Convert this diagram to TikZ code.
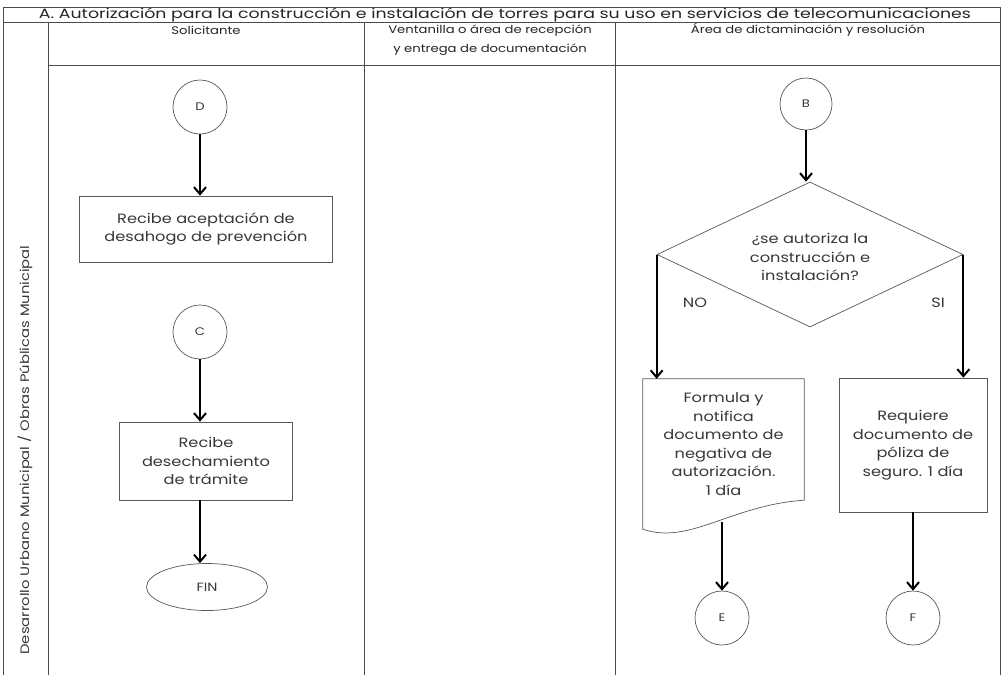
\documentclass[tikz,border=0pt]{standalone}
\usepackage{fontspec}
\usepackage{graphicx}
\setmainfont{Poppins}[FakeStretch=1.2]
\usetikzlibrary{arrows.meta,shapes.geometric,calc}
\begin{document}
\begin{tikzpicture}[x=1pt,y=-1pt,
  frame/.style={draw=black!70,line width=0.7pt},
  shp/.style={draw=black!65,line width=0.7pt,inner sep=0pt},
  flow/.style={draw=black,line width=2pt,-{Straight Barb[length=7pt,width=12pt,line width=2pt]}},
  txt/.style={font=\fontsize{13.5}{18.5}\selectfont,align=center,text=black!78},
  hdr/.style={font=\fontsize{11}{19}\selectfont,align=center,text=black!85}
]
\useasboundingbox (0,0) rectangle (1003,675);
\fill[white] (0,0) rectangle (1003,675);

% frame
\draw[frame] (3,675) -- (3,7) -- (1000,7) -- (1000,675);
\draw[frame] (3,22) -- (1000,22);
\draw[frame] (48,22) -- (48,675);
\draw[frame] (48,65) -- (1000,65);
\draw[frame] (364,22) -- (364,675);
\draw[frame] (615,22) -- (615,675);

% title and headers
\node[inner sep=0pt,text=black!85] (title) at (505,15) {\resizebox{932pt}{\height}{\fontsize{13.5}{13.5}\selectfont A. Autorización para la construcción e instalación de torres para su uso en servicios de telecomunicaciones}};
\node[hdr] (h1) at (206,30) {Solicitante};
\node[hdr] (h2) at (490,40) {Ventanilla o área de recepción\\y entrega de documentación};
\node[hdr] (h3) at (808,30) {Área de dictaminación y resolución};
\node[rotate=90,font=\fontsize{12.3}{12.3}\selectfont,text=black!78] (lane) at (25,450) {Desarrollo Urbano Municipal / Obras Públicas Municipal};

% Solicitante lane
\node[shp,circle,minimum size=54pt,txt,font=\fontsize{11}{11}\selectfont] (D) at (200,107) {D};
\node[shp,rectangle,minimum width=253pt,minimum height=66pt,txt] (box1) at (206,229) {Recibe aceptación de\\desahogo de prevención};
\node[shp,circle,minimum size=54pt,txt,font=\fontsize{11}{11}\selectfont] (C) at (200,332) {C};
\node[shp,rectangle,minimum width=173pt,minimum height=78pt,txt] (box2) at (206,461) {Recibe\\desechamiento\\de trámite};
\node[shp,ellipse,minimum width=121pt,minimum height=47pt,txt,font=\fontsize{12}{12}\selectfont] (fin) at (207,587) {FIN};

\draw[flow] (D.south) -- (D.south |- box1.north);
\draw[flow] (C.south) -- (C.south |- box2.north);
\draw[flow] (C.south |- box2.south) -- (C.south |- fin.north);

% Area de dictaminacion lane
\node[shp,circle,minimum size=52pt,txt,font=\fontsize{11}{11}\selectfont] (B) at (806,104) {B};
\node[shp,diamond,minimum width=306pt,minimum height=145pt] (dia) at (810,254.5) {};
\node[txt] (qtxt) at (810,257) {¿se autoriza la\\construcción e\\instalación?};
\node[txt] (no) at (695,303) {NO};
\node[txt] (si) at (938,303) {SI};

\node[minimum width=161pt,minimum height=150pt,inner sep=0pt] (doc) at (723.5,454) {};
\draw[shp] (doc.north west) -- (doc.north east) -- ($(doc.south east)+(0,-29)$)
  .. controls ($(doc.south east)+(-74,-24)$) and ($(doc.south west)+(47,16)$) .. (doc.south west) -- cycle;
\node[txt] (doctxt) at (723.5,444) {Formula y\\notifica\\documento de\\negativa de\\autorización.\\1 día};
\coordinate (docb) at (722,522);

\node[shp,rectangle,minimum width=148pt,minimum height=134pt,txt] (req) at (913,445) {Requiere\\documento de\\póliza de\\seguro. 1 día};

\node[shp,circle,minimum size=54pt,txt,font=\fontsize{11}{11}\selectfont] (E) at (722,618) {E};
\node[shp,circle,minimum size=54pt,txt,font=\fontsize{11}{11}\selectfont] (F) at (913,618) {F};

\draw[flow] (B.south) -- (B.south |- dia.north);
\draw[flow] (dia.west) -- (dia.west |- doc.north);
\draw[flow] (dia.east) -- (dia.east |- req.north);
\draw[flow] (docb) -- (E.north);
\draw[flow] (req.south) -- (F.north);
\end{tikzpicture}
\end{document}
